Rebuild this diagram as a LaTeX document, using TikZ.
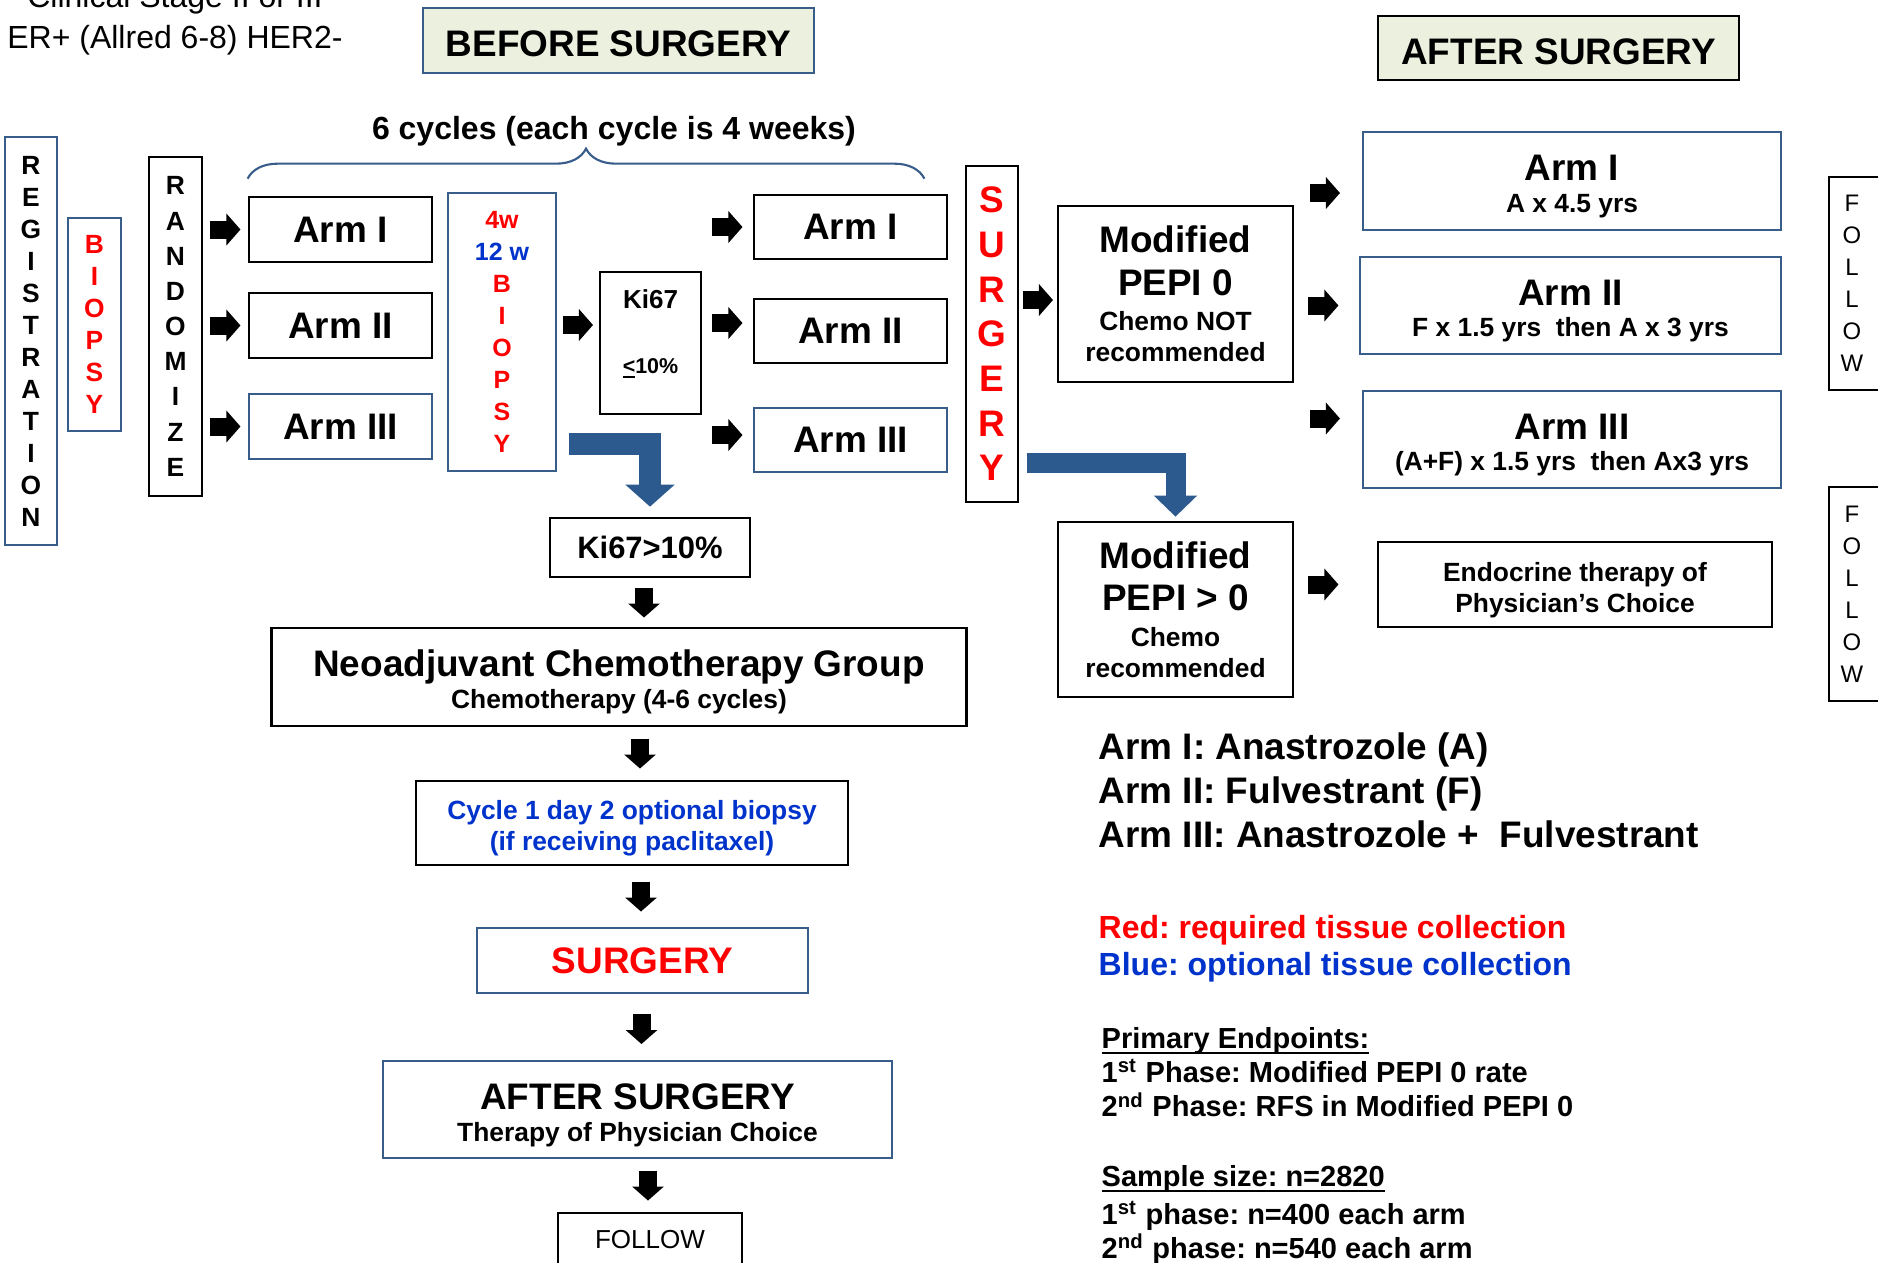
\documentclass[tikz,border=0pt]{standalone}
\usepackage{fontspec}
\setmainfont{Liberation Sans}
\usepackage{tikz}
\usetikzlibrary{arrows.meta, calc, decorations.pathreplacing}
\definecolor{frameBlue}{RGB}{56,93,138}
\definecolor{arrowBlue}{RGB}{44,90,142}
\definecolor{headFill}{RGB}{235,241,222}
\definecolor{textBlue}{RGB}{0,51,204}
\definecolor{textRed}{RGB}{255,0,0}
\newcommand{\lineunder}[1]{\leavevmode\setbox0=\hbox{#1}\rlap{\rule[-0.17em]{\wd0}{0.07em}}\box0\relax}

\begin{document}
\frenchspacing
\begin{tikzpicture}[
        x=0.01cm, y=-0.01cm,
        box/.style={
            rectangle,
            draw=black,
            line width=0.75pt,
            inner sep=0pt,
            align=center,
            font=\bfseries
        },
        bluebox/.style={box, draw=frameBlue},
        headbox/.style={box, fill=headFill, text height=9.3pt, text depth=0pt, font=\bfseries\fontsize{10.5}{12}\selectfont},
        armbox/.style={box, minimum width=1.83cm, minimum height=0.65cm, font=\bfseries\fontsize{10.5}{12}\selectfont},
        fatarrow/.style={
            line width=0.18cm,
            -{Triangle[width=0.31cm,length=0.14cm]}
        },
        bentarrow/.style={
            arrowBlue,
            line width=0.22cm,
            -{Triangle[width=0.48cm,length=0.22cm]}
        },
        note/.style={anchor=north west, inner sep=0pt, align=left, font=\bfseries\fontsize{8.25}{9.7}\selectfont}
    ]
    \useasboundingbox (0,0) rectangle (1878,1262);
    \clip (0,0) rectangle (1878,1262);
    \fill[white] (0,0) rectangle (1878,1262);

    % headings
    \node[anchor=south, inner sep=0pt, align=center, font=\fontsize{9.1}{11.7}\selectfont] (stage) at (175,56) {Clinical Stage II or III\\ER+ (Allred 6-8) HER2-};
    \node[headbox, draw=frameBlue, minimum width=3.91cm, minimum height=0.65cm] (before) at (618.5,40.5) {BEFORE SURGERY};
    \node[headbox, minimum width=3.61cm, minimum height=0.64cm] (after) at (1558.5,48) {AFTER SURGERY};

    % before surgery
    \node[bluebox, font=\bfseries\fontsize{7.5}{9.1}\selectfont, minimum width=0.52cm, minimum height=4.08cm] (registration) at (31,341) {R\\E\\G\\I\\S\\T\\R\\A\\T\\I\\O\\N};
    \node[bluebox, font=\bfseries\fontsize{7.5}{9.1}\selectfont, text=textRed, minimum width=0.53cm, minimum height=2.13cm] (biopsy) at (94.5,324.5) {B\\I\\O\\P\\S\\Y};
    \node[box, font=\bfseries\fontsize{7.5}{10}\selectfont, minimum width=0.53cm, minimum height=3.39cm] (randomize) at (175.5,326.5) {R\\A\\N\\D\\O\\M\\I\\Z\\E};

    \node[armbox] (armL1) at (340.5,229.5) {Arm I};
    \node[armbox] (armL2) at (340.5,325.5) {Arm II};
    \node[armbox, draw=frameBlue] (armL3) at (340.5,426.5) {Arm III};

    \node[bluebox, font=\bfseries\fontsize{7.1}{9.1}\selectfont, text=textRed, minimum width=1.08cm, minimum height=2.78cm] (biopsyw) at (502,332) {4w\\\textcolor{textBlue}{12 w}\\B\\I\\O\\P\\S\\Y};
    \node[box, font=\bfseries\fontsize{7.4}{18.5}\selectfont, text depth=0.22cm, minimum width=1.01cm, minimum height=1.42cm] (ki67) at (650.5,343) {Ki67\\{\fontsize{6.1}{18.5}\selectfont\lineunder{<}10\%}};

    \node[armbox, minimum width=1.93cm, minimum height=0.64cm] (armR1) at (850.5,227) {Arm I};
    \node[armbox, minimum width=1.93cm, minimum height=0.64cm] (armR2) at (850.5,331) {Arm II};
    \node[armbox, draw=frameBlue, minimum width=1.93cm, minimum height=0.64cm] (armR3) at (850.5,440) {Arm III};

    \coordinate (braceL) at ($(armL1.north west)+(0,-17)$);
    \coordinate (braceR) at ($(armR1.north east)+(-24,-15)$);
    \draw[frameBlue, line width=0.6pt, decorate, decoration={brace, amplitude=0.3cm}] (braceL) -- (braceR);
    \node[anchor=base, inner sep=0pt, font=\bfseries\fontsize{9.1}{11}\selectfont] (cycles) at (614,139) {6 cycles (each cycle is 4 weeks)};

    \node[box, font=\bfseries\fontsize{10.5}{12.7}\selectfont, text=textRed, minimum width=0.52cm, minimum height=3.36cm] (surgery) at (992,334) {S\\U\\R\\G\\E\\R\\Y};

    % after surgery
    \node[box, font=\bfseries\fontsize{10.5}{8.8}\selectfont, minimum width=2.35cm, minimum height=1.76cm] (pepi0) at (1175.5,294) {Modified\\[3.2pt]PEPI 0\\[1.3pt]{\fontsize{7.5}{8.8}\selectfont Chemo NOT}\\{\fontsize{7.5}{8.8}\selectfont recommended}};
    \node[box, font=\bfseries\fontsize{10.5}{8.8}\selectfont, minimum width=2.35cm, minimum height=1.75cm] (pepihigh) at (1175.5,609.5) {Modified\\[3.2pt]PEPI > 0\\[1.3pt]{\fontsize{7.5}{8.8}\selectfont Chemo}\\{\fontsize{7.5}{8.8}\selectfont recommended}};

    \node[bluebox, font=\bfseries\fontsize{10.5}{9}\selectfont, minimum width=4.18cm, minimum height=0.98cm] (armA1) at (1572,181) {\rule{0pt}{10.4pt}Arm I\\{\fontsize{7.5}{9}\selectfont A x 4.5 yrs}};
    \node[bluebox, font=\bfseries\fontsize{10.5}{9}\selectfont, minimum width=4.21cm, minimum height=0.97cm] (armA2) at (1570.5,305.5) {\rule{0pt}{10.4pt}Arm II\\{\fontsize{7.5}{9}\selectfont F x 1.5 yrs~~then A x 3 yrs}};
    \node[bluebox, font=\bfseries\fontsize{10.5}{9}\selectfont, minimum width=4.18cm, minimum height=0.97cm] (armA3) at (1572,439.5) {\rule{0pt}{10.4pt}Arm III\\{\fontsize{7.5}{9}\selectfont (A+F) x 1.5 yrs~~then Ax3 yrs}};
    \node[box, font=\bfseries\fontsize{7.5}{8.8}\selectfont, minimum width=3.94cm, minimum height=0.85cm] (endocrine) at (1575,584.5) {\rule{0pt}{8.4pt}Endocrine therapy of\\Physician’s Choice};

    \draw[line width=0.75pt] (1829,177) rectangle (1900,390);
    \node[inner sep=0pt, align=center, font=\fontsize{6.8}{9.1}\selectfont] (followA) at (1852,283.5) {F\\O\\L\\L\\O\\W};
    \draw[line width=0.75pt] (1829,487) rectangle (1900,701);
    \node[inner sep=0pt, align=center, font=\fontsize{6.8}{9.1}\selectfont] (followB) at (1852,594) {F\\O\\L\\L\\O\\W};

    % chemotherapy branch
    \node[box, font=\bfseries\fontsize{8.8}{10}\selectfont, minimum width=2cm, minimum height=0.59cm] (kihigh) at (650,547.5) {Ki67>10\%};
    \node[box, font=\bfseries\fontsize{10.5}{9.1}\selectfont, minimum width=6.94cm, minimum height=0.98cm] (neo) at (619,677) {\rule{0pt}{10.4pt}Neoadjuvant Chemotherapy Group\\{\fontsize{7.5}{9.1}\selectfont Chemotherapy (4-6 cycles)}};
    \node[box, font=\bfseries\fontsize{7.5}{8.8}\selectfont, text=textBlue, minimum width=4.32cm, minimum height=0.84cm] (cycle) at (632,823) {\rule{0pt}{8.4pt}Cycle 1 day 2 optional biopsy\\(if receiving paclitaxel)};
    \node[bluebox, font=\bfseries\fontsize{10.5}{12}\selectfont, text=textRed, minimum width=3.31cm, minimum height=0.65cm] (surgerylow) at (642.5,960.5) {SURGERY};
    \node[bluebox, font=\bfseries\fontsize{10.5}{9.1}\selectfont, minimum width=5.09cm, minimum height=0.97cm] (afterlow) at (637.5,1109.5) {\rule{0pt}{10.4pt}AFTER SURGERY\\{\fontsize{7.5}{9.1}\selectfont Therapy of Physician Choice}};
    \node[box, font=\fontsize{7.4}{9}\selectfont, minimum width=1.84cm, minimum height=0.54cm] (follow) at (650,1240) {FOLLOW};

    % legend
    \node[note, font=\bfseries\fontsize{10.5}{12.5}\selectfont] (legend) at (1098,732) {Arm I: Anastrozole (A)\\Arm II: Fulvestrant (F)\\Arm III: Anastrozole +~~Fulvestrant};
    \node[note, font=\bfseries\fontsize{9.1}{10.5}\selectfont] (colours) at (1098,915) {\textcolor{textRed}{Red: required tissue collection}\\\textcolor{textBlue}{Blue: optional tissue collection}};
    \node[note] (endpoints) at (1101,1027) {\lineunder{Primary Endpoints:}\\1\textsuperscript{st} Phase: Modified PEPI 0 rate\\2\textsuperscript{nd} Phase: RFS in Modified PEPI 0};
    \node[note] (samples) at (1101,1165) {\lineunder{Sample size: n=2820}\\[1pt]1\textsuperscript{st} phase: n=400 each arm\\2\textsuperscript{nd} phase: n=540 each arm};

    % block arrows
    \draw[fatarrow] ($(randomize.east |- armL1)!.5!(armL1.west)+(-15,0)$) -- +(30,0);
    \draw[fatarrow] ($(randomize.east |- armL2)!.5!(armL2.west)+(-15,0)$) -- +(30,0);
    \draw[fatarrow] ($(randomize.east |- armL3)!.5!(armL3.west)+(-15,0)$) -- +(30,0);
    \draw[fatarrow] ($(biopsyw.east)!.5!(biopsyw.east -| ki67.west)+(-15,-7)$) -- +(30,0);
    \draw[fatarrow] ($(ki67.east |- armR1)!.5!(armR1.west)+(-15,0)$) -- +(30,0);
    \draw[fatarrow] ($(ki67.east |- armR2)!.5!(armR2.west)+(-15,-8)$) -- +(30,0);
    \draw[fatarrow] ($(ki67.east |- armR3)!.5!(armR3.west)+(-15,-5)$) -- +(30,0);
    \draw[fatarrow] ($(surgery.east |- pepi0)!.5!(pepi0.west)+(-15,6)$) -- +(30,0);
    \draw[fatarrow] ($(pepi0.east |- armA1)!.5!(armA1.west)+(-18,12)$) -- +(30,0);
    \draw[fatarrow] ($(pepi0.east |- armA2)!.5!(armA2.west)+(-18,0)$) -- +(30,0);
    \draw[fatarrow] ($(pepi0.east |- armA3)!.5!(armA3.west)+(-18,-21)$) -- +(30,0);
    \draw[fatarrow] ($(pepihigh.east |- endocrine)!.5!(endocrine.west)+(-27,0)$) -- +(30,0);

    \draw[fatarrow] ($(kihigh.south)!.5!(kihigh.south |- neo.north)+(-6,-15)$) -- +(0,30);
    \draw[fatarrow] ($(cycle.north |- neo.south)!.5!(cycle.north)+(8,-15)$) -- +(0,30);
    \draw[fatarrow] ($(cycle.south)!.5!(cycle.south |- surgerylow.north)+(9,-15)$) -- +(0,30);
    \draw[fatarrow] ($(surgerylow.south)!.5!(surgerylow.south |- afterlow.north)+(-1,-13)$) -- +(0,30);
    \draw[fatarrow] ($(afterlow.south -| follow.north)!.5!(follow.north)+(-2,-15)$) -- +(0,30);

    % bent arrows
    \coordinate (bendA) at ($(biopsyw.south east)+(12,-28)$);
    \coordinate (bendB) at ($(surgery.south east)+(8,-40)$);
    \draw[bentarrow, shorten >=0.1cm] (bendA) -| (kihigh.north);
    \draw[bentarrow, line width=0.2cm, -{Triangle[width=0.42cm,length=0.21cm]}, shorten >=0.04cm] (bendB) -| (pepihigh.north);

\end{tikzpicture}
\end{document}
